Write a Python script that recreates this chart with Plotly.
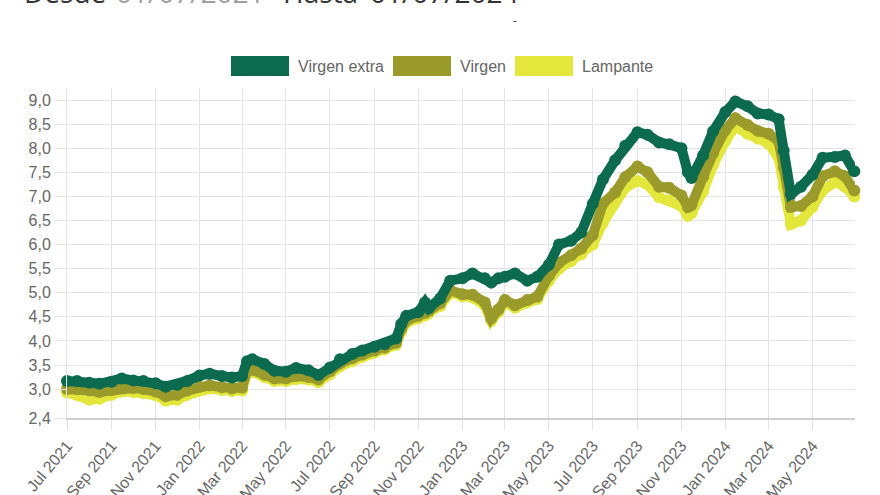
import plotly.graph_objects as go

dates = [
    "2021-07-01", "2021-07-15", "2021-08-01", "2021-08-15", "2021-09-01", "2021-09-15",
    "2021-10-01", "2021-10-15", "2021-11-01", "2021-11-15", "2021-12-01", "2021-12-15",
    "2022-01-01", "2022-01-15", "2022-02-01", "2022-02-15", "2022-03-01", "2022-03-08",
    "2022-03-15", "2022-04-01", "2022-04-15", "2022-05-01", "2022-05-15", "2022-06-01",
    "2022-06-15", "2022-07-01", "2022-07-15", "2022-08-01", "2022-08-15", "2022-09-01",
    "2022-09-15", "2022-10-01", "2022-10-08", "2022-10-15", "2022-11-01", "2022-11-10",
    "2022-11-15", "2022-12-01", "2022-12-15", "2023-01-01", "2023-01-15", "2023-02-01",
    "2023-02-10", "2023-02-20", "2023-03-01", "2023-03-15", "2023-04-01", "2023-04-15",
    "2023-05-01", "2023-05-15", "2023-06-01", "2023-06-15", "2023-07-01", "2023-07-15",
    "2023-08-01", "2023-08-15", "2023-09-01", "2023-09-15", "2023-10-01", "2023-10-15",
    "2023-11-01", "2023-11-10", "2023-11-15", "2023-12-01", "2023-12-15", "2024-01-01",
    "2024-01-15", "2024-02-01", "2024-02-15", "2024-03-01", "2024-03-15", "2024-03-22",
    "2024-04-01", "2024-04-15", "2024-05-01", "2024-05-15", "2024-06-01", "2024-06-15",
    "2024-06-28",
]

virgen_extra = [
    3.17, 3.17, 3.13, 3.11, 3.15, 3.22, 3.18, 3.17, 3.12, 3.05, 3.09, 3.17,
    3.28, 3.32, 3.27, 3.24, 3.27, 3.58, 3.62, 3.52, 3.38, 3.36, 3.44, 3.39,
    3.29, 3.45, 3.62, 3.73, 3.80, 3.88, 3.93, 4.05, 4.35, 4.52, 4.60, 4.80,
    4.68, 4.88, 5.25, 5.30, 5.40, 5.30, 5.21, 5.30, 5.33, 5.40, 5.25, 5.33,
    5.58, 6.00, 6.08, 6.25, 6.85, 7.35, 7.75, 8.05, 8.33, 8.28, 8.12, 8.08,
    8.00, 7.50, 7.38, 7.85, 8.35, 8.75, 8.97, 8.87, 8.72, 8.70, 8.60, 7.95,
    7.05, 7.20, 7.45, 7.80, 7.82, 7.85, 7.52,
]

virgen = [
    3.00, 3.00, 2.97, 2.94, 2.98, 3.03, 3.02, 3.00, 2.95, 2.85, 2.88, 2.97,
    3.05, 3.08, 3.04, 3.01, 3.03, 3.38, 3.40, 3.30, 3.22, 3.22, 3.27, 3.25,
    3.20, 3.37, 3.53, 3.64, 3.72, 3.80, 3.86, 3.96, 4.25, 4.42, 4.52, 4.58,
    4.62, 4.78, 5.05, 4.97, 4.96, 4.80, 4.47, 4.65, 4.85, 4.74, 4.85, 4.92,
    5.35, 5.62, 5.78, 5.92, 6.20, 6.85, 7.08, 7.40, 7.62, 7.50, 7.20, 7.18,
    7.02, 6.78, 6.82, 7.40, 7.90, 8.38, 8.62, 8.48, 8.36, 8.30, 8.15, 7.60,
    6.78, 6.80, 7.00, 7.42, 7.52, 7.42, 7.12,
]

lampante = [
    2.93, 2.88, 2.78, 2.80, 2.88, 2.95, 2.94, 2.92, 2.87, 2.76, 2.78, 2.88,
    2.98, 3.01, 2.98, 2.96, 2.97, 3.34, 3.36, 3.25, 3.17, 3.17, 3.21, 3.20,
    3.14, 3.31, 3.47, 3.58, 3.67, 3.76, 3.82, 3.92, 4.20, 4.37, 4.47, 4.53,
    4.57, 4.72, 5.00, 4.92, 4.90, 4.74, 4.42, 4.60, 4.80, 4.69, 4.80, 4.87,
    5.25, 5.50, 5.66, 5.80, 6.00, 6.45, 6.90, 7.18, 7.32, 7.25, 6.98, 6.92,
    6.80, 6.60, 6.65, 7.10, 7.65, 8.15, 8.45, 8.30, 8.20, 8.10, 7.80, 7.20,
    6.42, 6.50, 6.78, 7.12, 7.30, 7.20, 7.00,
]

series_names = ["Virgen extra", "Virgen", "Lampante"]
series_colors = ["#0c6b4f", "#9b9b2b", "#e3e63b"]
y_tick_vals = [2.4, 3.0, 3.5, 4.0, 4.5, 5.0, 5.5, 6.0, 6.5, 7.0, 7.5, 8.0, 8.5, 9.0]
y_tick_text = [f"{v:.1f}".replace(".", ",") for v in y_tick_vals]

series_values = {"Virgen extra": virgen_extra, "Virgen": virgen, "Lampante": lampante}

fig = go.Figure()
# draw Lampante first so Virgen extra sits on top
for name, color in reversed(list(zip(series_names, series_colors))):
    fig.add_trace(go.Scatter(
        x=dates, y=series_values[name], name=name, mode="lines+markers",
        line=dict(color=color, width=10),
        marker=dict(color=color, size=12),
        cliponaxis=False, showlegend=False,
    ))

grid = "#e4e4e4"
L, R, T, B = 67, 25, 88, 77
W, H = 880, 495
pw, ph = W - L - R, H - T - B

def px(x):
    return (x - L) / pw

def py(y):
    return (H - B - y) / ph

# manual legend (boxes + labels)
legend_items = [(231, 296), (393, 458), (515, 580)]
for (bx, tx), name, color in zip(legend_items, series_names, series_colors):
    fig.add_shape(type="rect", xref="paper", yref="paper",
                  x0=px(bx), x1=px(bx + 58), y0=py(76), y1=py(56),
                  fillcolor=color, line=dict(width=0))
    fig.add_annotation(xref="paper", yref="paper", x=px(tx), y=py(66),
                       xanchor="left", yanchor="middle", text=name, showarrow=False,
                       font=dict(family="Liberation Sans, Arial", size=16, color="#666666"))

# header, partially cut at top (as in the reference)
header = [("Desde", 22, "#333333"), ("01/07/2021", 114, "#a0a0a0"),
          ("Hasta", 281, "#333333"), ("01/07/2024", 368, "#333333")]
for txt, x, col in header:
    fig.add_annotation(xref="paper", yref="paper", x=px(x), y=py(13),
                       xanchor="left", yanchor="bottom", text=txt, showarrow=False,
                       font=dict(family="Open Sans", size=28, color=col))
fig.add_annotation(xref="paper", yref="paper", x=px(515), y=py(21),
                   xanchor="center", yanchor="middle", text="-", showarrow=False,
                   font=dict(family="Open Sans", size=12, color="#333333"))

fig.update_layout(
    width=W, height=H,
    margin=dict(l=L, r=R, t=T, b=B, autoexpand=False),
    paper_bgcolor="white", plot_bgcolor="white",
    showlegend=False,
)
fig.update_xaxes(
    type="date", range=["2021-07-01", "2024-06-29"], automargin=False,
    tick0="2021-07-01", dtick="M2", tickformat="%b %Y", tickangle=-50,
    showgrid=True, gridcolor=grid, gridwidth=1,
    ticks="outside", ticklen=10, tickcolor=grid,
    showline=True, linecolor="#d0d0d0", linewidth=2,
    tickfont=dict(family="Liberation Sans, Arial", size=16, color="#666666"),
    zeroline=False,
)
fig.update_yaxes(
    range=[2.4, 9.25], tickvals=y_tick_vals, ticktext=y_tick_text, automargin=False,
    showgrid=True, gridcolor=grid, gridwidth=1,
    ticks="outside", ticklen=12, tickcolor=grid,
    showline=True, linecolor=grid, linewidth=1,
    tickfont=dict(family="Liberation Sans, Arial", size=16, color="#666666"),
    zeroline=False,
)

fig.write_html("out.html")
